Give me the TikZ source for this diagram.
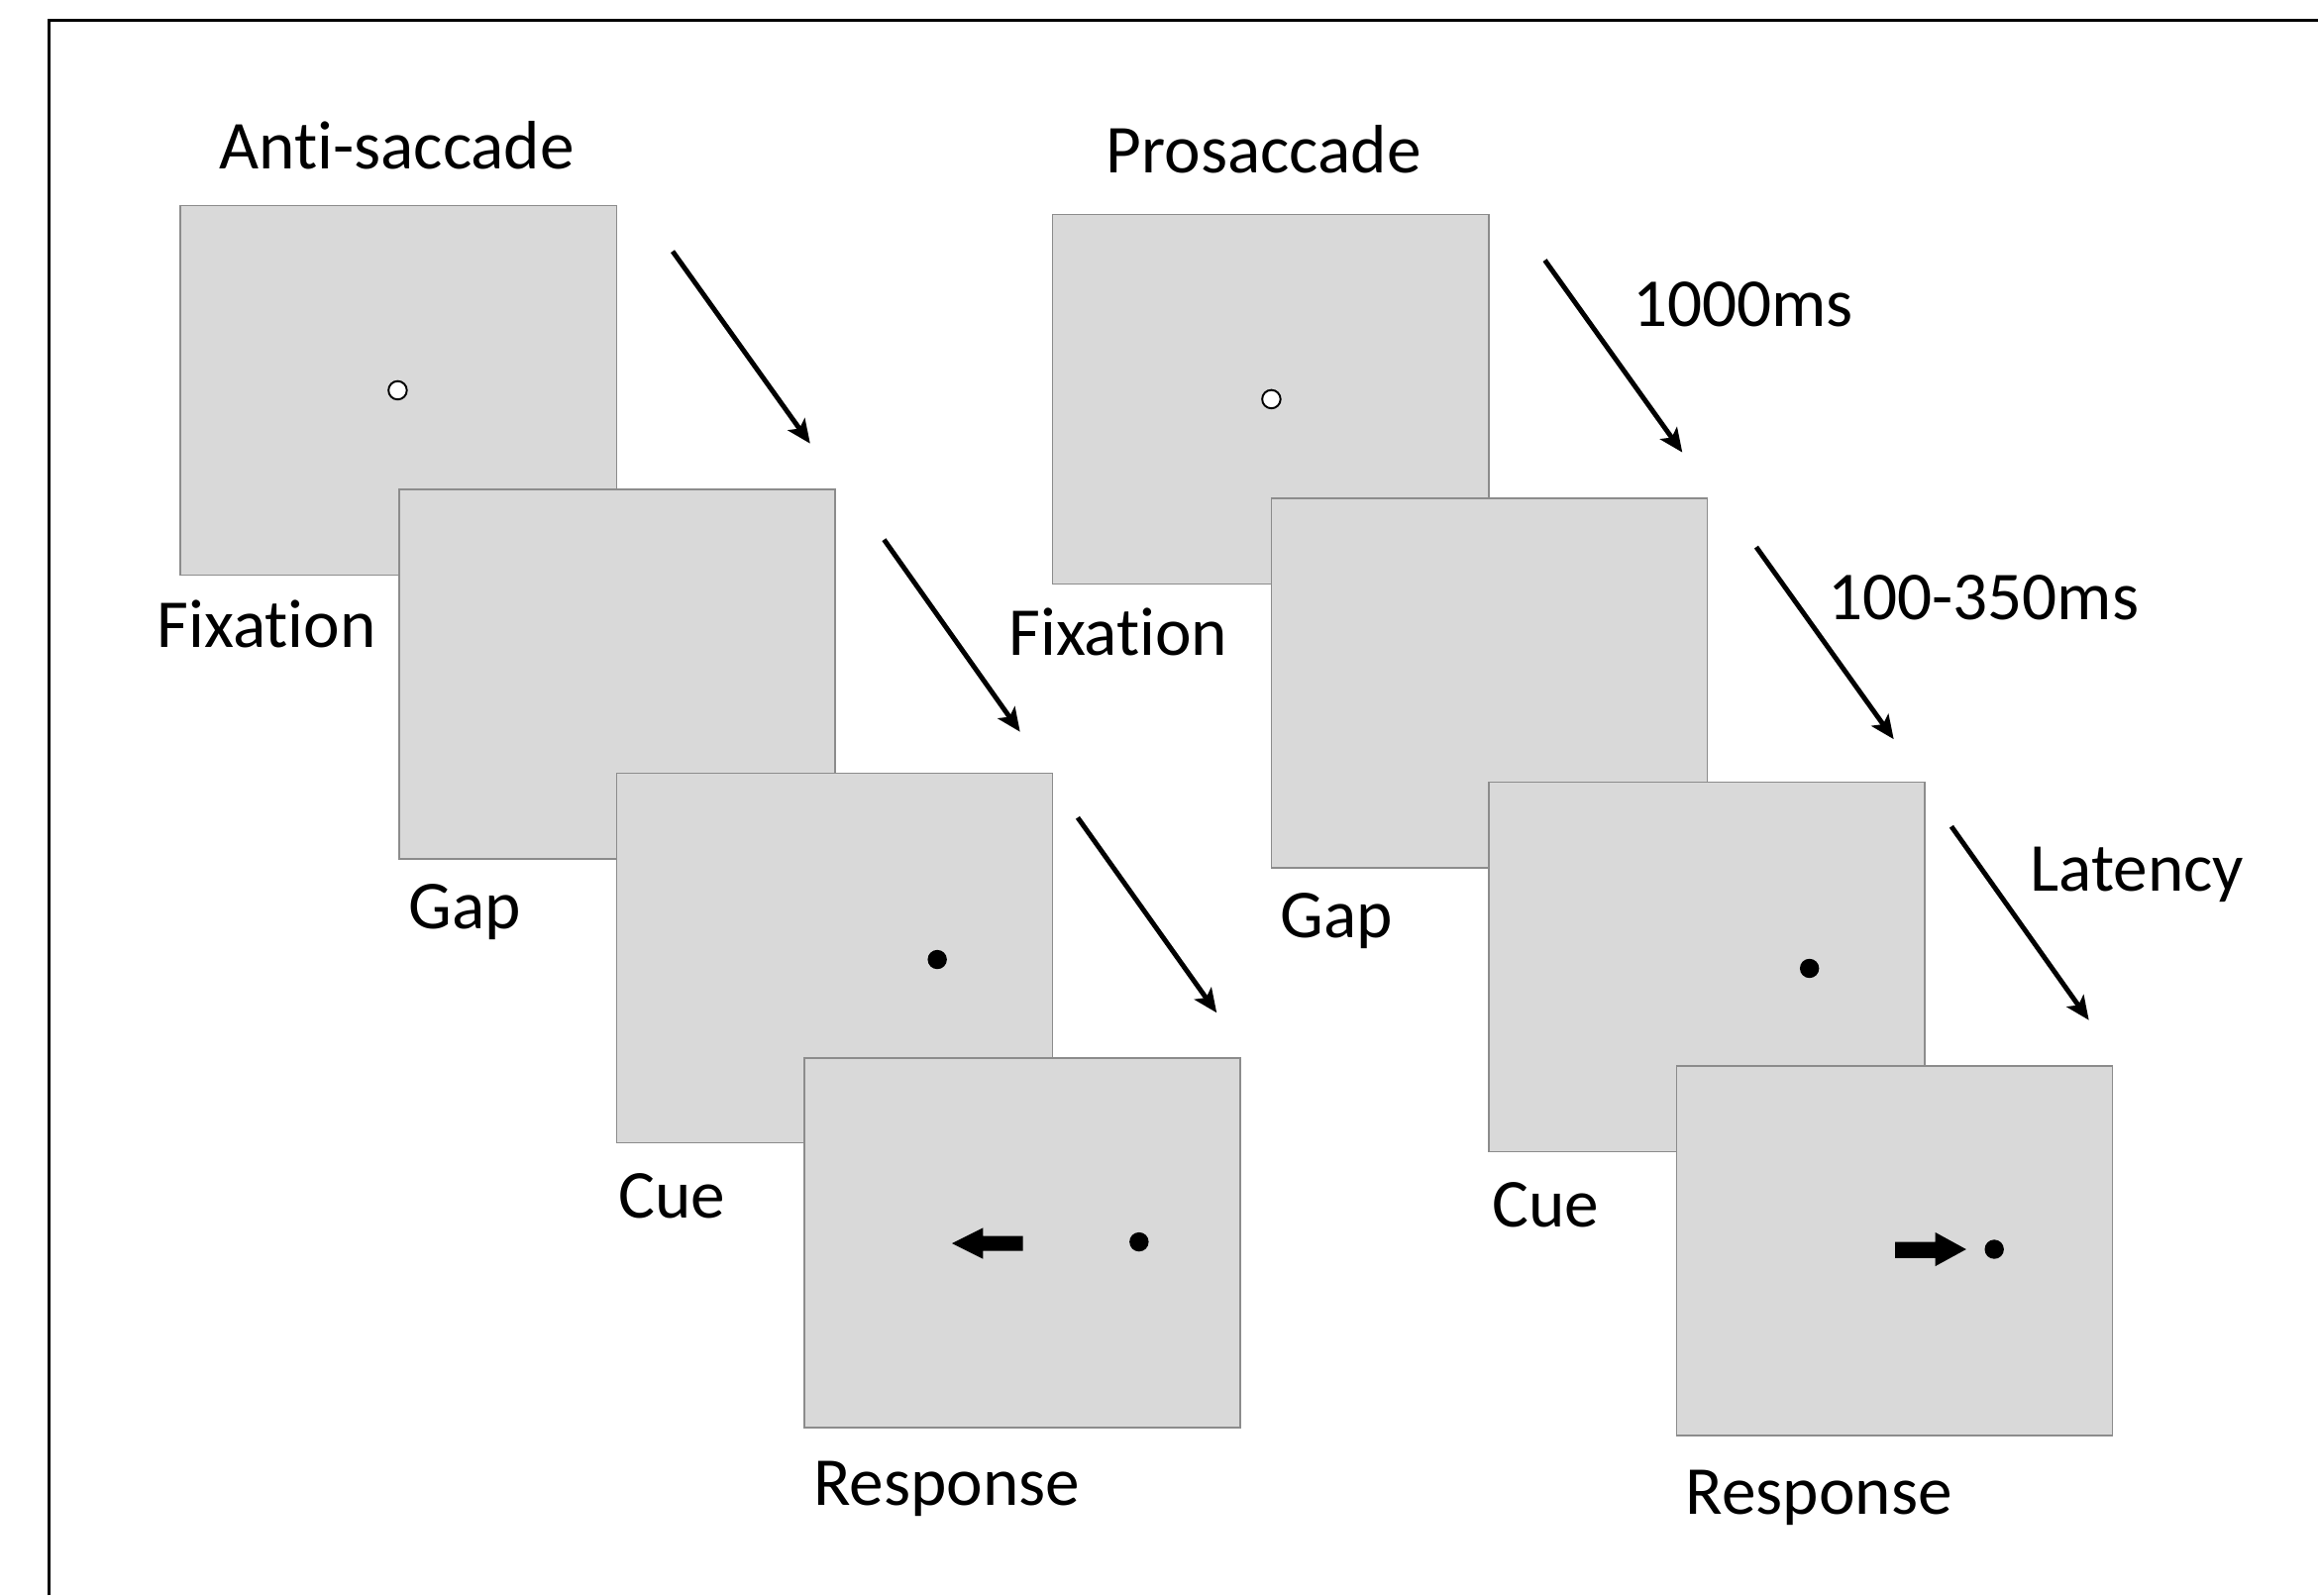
\documentclass[tikz,border=0pt]{standalone}
\usepackage{fontspec}
\setmainfont{Carlito}[RawFeature={-liga;-clig;-calt;-dlig}]
\usetikzlibrary{arrows.meta}
\definecolor{screen}{HTML}{D9D9D9}
\definecolor{screenedge}{HTML}{8C8C8C}
\tikzset{
  screenbox/.style={draw=screenedge, line width=0.5pt, fill=screen, minimum width=147.5pt, minimum height=125pt, inner sep=0pt},
  lbl/.style={anchor=base west, inner sep=0pt, font=\fontsize{23.2}{28}\selectfont},
  timearrow/.style={line width=1.65pt, -{Stealth[length=8pt,width=7pt,inset=1.8pt]}},
  fixdot/.style={circle, draw=black, line width=0.65pt, fill=white, minimum size=6.2pt, inner sep=0pt},
  targetdot/.style={circle, fill=black, minimum size=6.5pt, inner sep=0pt},
}
\begin{document}
\begin{tikzpicture}[x=0.5pt,y=-0.5pt]
\useasboundingbox (0,0) rectangle (1568,1079);
% frame (only top and left edges visible)
\draw[line width=1pt] (33,1079) -- (33,14) -- (1568,14);

% ---------- Anti-saccade ----------
\node[lbl] (titleA) at (148,114) {Anti-saccade};
\node[screenbox] (a1) at (269.5,264) {};
\node[fixdot] (a1f) at (269,264) {};
\node[screenbox] (a2) at (417.5,456) {};
\node[screenbox] (a3) at (564.5,648) {};
\node[targetdot] (a3d) at (634,649) {};
\node[screenbox] (a4) at (691.5,840.5) {};
\node[targetdot] (a4d) at (770.5,840) {};
\fill (692,836) -- (665,836) -- (665,830.5) -- (644,841) -- (665,851.5) -- (665,846) -- (692,846) -- cycle;

\node[lbl] (la1) at (106,438) {Fixation};
\node[lbl] (la2) at (276,628) {Gap};
\node[lbl] (la3) at (418,824) {Cue};
\node[lbl] (la4) at (550,1018) {Response};

\coordinate (aa1s) at (455,170); \coordinate (aa1e) at (548,300);
\coordinate (aa2s) at (598,365); \coordinate (aa2e) at (690,495);
\coordinate (aa3s) at (729,553); \coordinate (aa3e) at (823,685);
\draw[timearrow] (aa1s) -- (aa1e);
\draw[timearrow] (aa2s) -- (aa2e);
\draw[timearrow] (aa3s) -- (aa3e);

% ---------- Prosaccade ----------
\node[lbl] (titleP) at (748,117) {Prosaccade};
\node[screenbox] (p1) at (859.5,270) {};
\node[fixdot] (p1f) at (860,270) {};
\node[screenbox] (p2) at (1007.5,462) {};
\node[screenbox] (p3) at (1154.5,654) {};
\node[targetdot] (p3d) at (1224,655) {};
\node[screenbox] (p4) at (1281.5,846) {};
\node[targetdot] (p4d) at (1349,845) {};
\fill (1282,840) -- (1309,840) -- (1309,833.5) -- (1330,845) -- (1309,856.5) -- (1309,851) -- (1282,851) -- cycle;

\node[lbl] (lp1) at (682,443) {Fixation};
\node[lbl] (lp2) at (866,634) {Gap};
\node[lbl] (lp3) at (1009,830) {Cue};
\node[lbl] (lp4) at (1140,1024) {Response};

\coordinate (pa1s) at (1045,176); \coordinate (pa1e) at (1138,306);
\coordinate (pa2s) at (1188,370); \coordinate (pa2e) at (1281,500);
\coordinate (pa3s) at (1320,559); \coordinate (pa3e) at (1413,690);
\draw[timearrow] (pa1s) -- (pa1e);
\draw[timearrow] (pa2s) -- (pa2e);
\draw[timearrow] (pa3s) -- (pa3e);

\node[lbl] (t1) at (1104,221) {1000ms};
\node[lbl] (t2) at (1236,419) {100-350ms};
\node[lbl] (t3) at (1373,603) {Latency};
\end{tikzpicture}
\end{document}
